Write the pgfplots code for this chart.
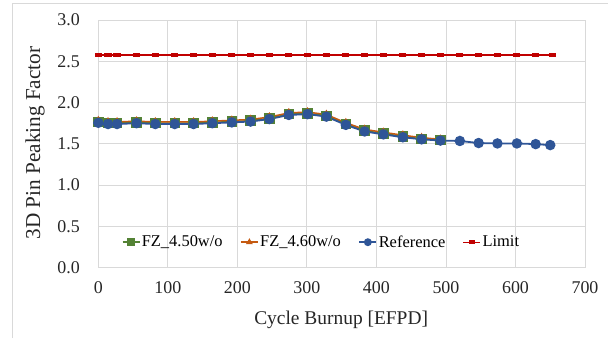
\documentclass[border=0pt]{standalone}
\usepackage{fontspec}
\setmainfont{Liberation Serif}
\usepackage{pgfplots}
\pgfplotsset{compat=1.18}
\definecolor{gridgray}{RGB}{217,217,217}
\definecolor{fzgreen}{RGB}{84,130,53}
\definecolor{fzorange}{RGB}{197,90,17}
\definecolor{refblue}{RGB}{47,85,151}
\definecolor{limred}{RGB}{192,0,0}
\begin{document}
\begin{tikzpicture}[x=1bp,y=1bp]
\useasboundingbox (0,0) rectangle (608,338);
\draw[gridgray, line width=1bp] (12,0) -- (12,334) -- (608,334);
\begin{axis}[
  at={(98.3bp,70.3bp)}, anchor=south west,
  scale only axis, width=486.7bp, height=247.7bp,
  xmin=0, xmax=700, ymin=0, ymax=3,
  xtick={0,100,...,700}, ytick={0,0.5,...,3.0},
  grid=major, major grid style={gridgray, line width=0.9bp},
  axis line style={gridgray, line width=0.9bp},
  major tick length=0pt,
  /pgf/number format/assume math mode=true,
  yticklabel style={/pgf/number format/fixed, /pgf/number format/fixed zerofill, /pgf/number format/precision=1, xshift=-15bp},
  ticklabel style={font=\fontsize{18}{20}\selectfont, text=black!85},
  xticklabel style={yshift=-10bp},
  xlabel={Cycle Burnup [EFPD]},
  ylabel={3D Pin Peaking Factor},
  xlabel style={font=\fontsize{19.5}{22}\selectfont, text=black!85, at={(axis description cs:0.499,-0.231)}, anchor=base},
  ylabel style={font=\fontsize{21.3}{24}\selectfont, text=black!85, at={(axis description cs:-0.130,0.503)}, anchor=center},
  legend style={draw=none, fill=none, font=\fontsize{16.5}{18}\selectfont,
    at={(axis description cs:0.458,0.103)}, anchor=center,
    nodes={inner xsep=1.5bp},
    /tikz/every even column/.append style={column sep=16bp}},
  legend columns=-1,
  legend image code/.code={
    \draw[mark repeat=2,mark phase=2,every mark/.append style={scale=0.7}] plot coordinates {(0bp,0bp) (8.5bp,0bp) (17bp,0bp)};},
]
\addplot[color=fzgreen, line width=1.5bp, mark=square*, mark size=4.5bp] coordinates {
(0,1.765) (14,1.75) (27,1.75) (55,1.76) (82,1.75) (110,1.75) (137,1.75) (164,1.76) (192,1.77) (219,1.78) (246,1.81) (274,1.86) (301,1.87) (328,1.84) (356,1.74) (383,1.66) (410,1.625) (438,1.59) (465,1.56) (492,1.545)};
\addplot[color=fzorange, line width=1.5bp, mark=triangle*, mark size=3.5bp] coordinates {
(0,1.78) (14,1.765) (27,1.765) (55,1.775) (82,1.765) (110,1.765) (137,1.765) (164,1.775) (192,1.785) (219,1.795) (246,1.825) (274,1.875) (301,1.885) (328,1.855) (356,1.755) (383,1.675) (410,1.64) (438,1.605) (465,1.575) (492,1.555)};
\addplot[color=refblue, line width=1.8bp, mark=*, mark size=4.3bp] coordinates {
(0,1.755) (14,1.74) (27,1.74) (55,1.75) (82,1.74) (110,1.74) (137,1.74) (164,1.75) (192,1.76) (219,1.77) (246,1.80) (274,1.85) (301,1.86) (328,1.83) (356,1.73) (383,1.65) (410,1.615) (438,1.58) (465,1.555) (492,1.54) (520,1.535) (547,1.51) (574,1.505) (602,1.505) (629,1.497) (650,1.485)};
\addplot[color=limred, line width=1.2bp, mark=-, mark size=3.6bp, mark options={line width=4bp}] coordinates {
(0,2.575) (14,2.575) (27,2.575) (55,2.575) (82,2.575) (110,2.575) (137,2.575) (164,2.575) (192,2.575) (219,2.575) (246,2.575) (274,2.575) (301,2.575) (328,2.575) (356,2.575) (383,2.575) (410,2.575) (438,2.575) (465,2.575) (492,2.575) (520,2.575) (547,2.575) (574,2.575) (602,2.575) (629,2.575) (653,2.575)};
\legend{FZ\_4.50w/o,FZ\_4.60w/o,Reference,Limit}
\end{axis}
\end{tikzpicture}
\end{document}
